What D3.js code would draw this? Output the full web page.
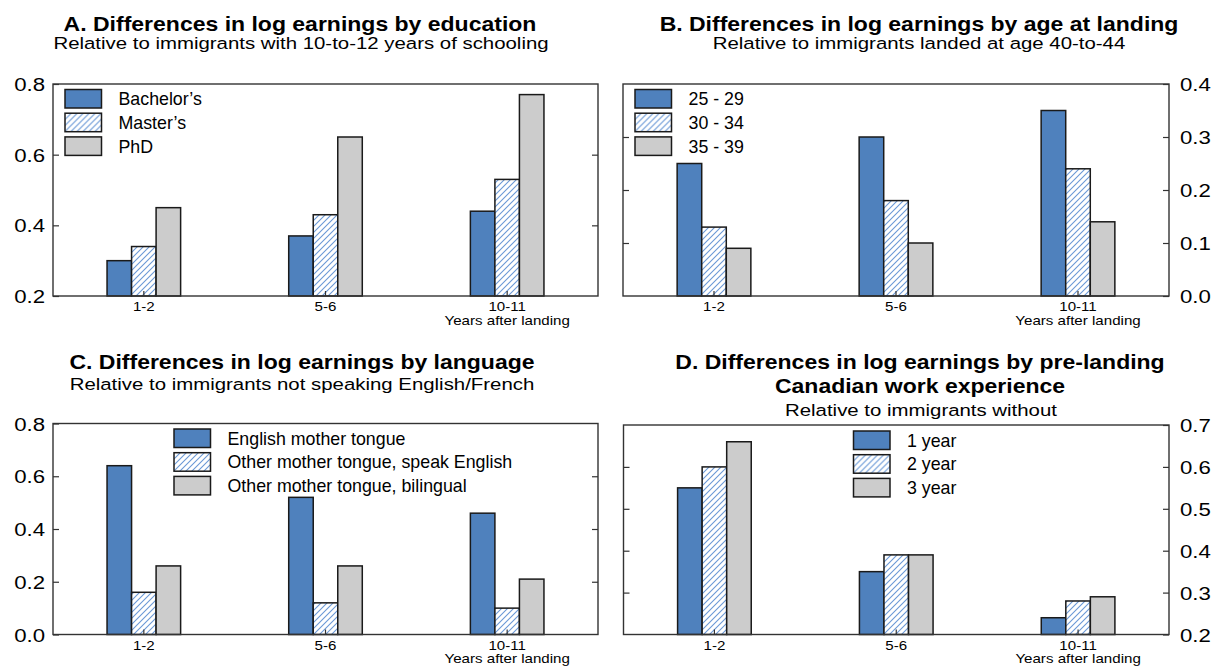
<!DOCTYPE html>
<html><head><meta charset="utf-8">
<script src="https://cdn.jsdelivr.net/npm/d3@7"></script>
<style>
body{margin:0;background:#fff;}
svg{display:block;font-family:"Liberation Sans",Arial,Helvetica,sans-serif;}
</style></head><body>
<svg id="chart" width="1212" height="666"></svg>
<script>
// ---------- data ----------
const years = ["1-2","5-6","10-11"];
const xAxisTitle = "Years after landing";

const eduSeries = ["Bachelor’s","Master’s","PhD"];
const eduBachelor = [0.30,0.37,0.44];
const eduMaster = [0.34,0.43,0.53];
const eduPhD = [0.45,0.65,0.77];
const eduTicks = [0.2,0.4,0.6,0.8];

const ageSeries = ["25 - 29","30 - 34","35 - 39"];
const age2529 = [0.25,0.30,0.35];
const age3034 = [0.13,0.18,0.24];
const age3539 = [0.09,0.10,0.14];
const ageTicks = [0.0,0.1,0.2,0.3,0.4];

const langSeries = ["English mother tongue","Other mother tongue, speak English","Other mother tongue, bilingual"];
const langEnglish = [0.64,0.52,0.46];
const langSpeakEnglish = [0.16,0.12,0.10];
const langBilingual = [0.26,0.26,0.21];
const langTicks = [0.0,0.2,0.4,0.6,0.8];

const expSeries = ["1 year","2 year","3 year"];
const exp1 = [0.55,0.35,0.24];
const exp2 = [0.60,0.39,0.28];
const exp3 = [0.66,0.39,0.29];
const expTicks = [0.2,0.3,0.4,0.5,0.6,0.7];

// ---------- layout / style ----------
const panels = [
  {title:["A. Differences in log earnings by education"], sub:"Relative to immigrants with 10-to-12 years of schooling",
   series:eduSeries, values:[eduBachelor,eduMaster,eduPhD], ticks:eduTicks, side:"left",
   box:{l:53,r:598,t:84,b:296}, tx:300, ty:[30.5], sx:301, sy:49, lg:{x:65,y:89.5}},
  {title:["B. Differences in log earnings by age at landing"], sub:"Relative to immigrants landed at age 40-to-44",
   series:ageSeries, values:[age2529,age3034,age3539], ticks:ageTicks, side:"right",
   box:{l:623,r:1169,t:84,b:296}, tx:919, ty:[30.5], sx:919, sy:49, lg:{x:635,y:89.5}},
  {title:["C. Differences in log earnings by language"], sub:"Relative to immigrants not speaking English/French",
   series:langSeries, values:[langEnglish,langSpeakEnglish,langBilingual], ticks:langTicks, side:"left",
   box:{l:53,r:598,t:423.5,b:634.5}, tx:302, ty:[369], sx:302, sy:390, lg:{x:174,y:429}},
  {title:["D. Differences in log earnings by pre-landing","Canadian work experience"], sub:"Relative to immigrants without",
   series:expSeries, values:[exp1,exp2,exp3], ticks:expTicks, side:"right",
   box:{l:623.5,r:1169,t:425,b:634.5}, tx:920, ty:[369,392.5], sx:921, sy:415.5, lg:{x:853.5,y:431}}
];
const fills = ["#4f81bd","url(#hatch)","#cccccc"];
const STRETCH = 1.2;

const svg = d3.select("#chart");
const defs = svg.append("defs");
const pat = defs.append("pattern").attr("id","hatch").attr("patternUnits","userSpaceOnUse")
  .attr("width",6).attr("height",6);
pat.append("rect").attr("width",6).attr("height",6).attr("fill","#fff");
pat.append("path").attr("d","M-1,1 l2,-2 M0,6 l6,-6 M5,7 l2,-2")
  .attr("stroke","#6a98d6").attr("stroke-width",1.1);

function stext(g, x, y, str, size, opts={}) {
  return g.append("text")
    .attr("transform",`translate(${x},${y}) scale(${opts.sx||STRETCH},1)`)
    .attr("text-anchor", opts.anchor||"middle")
    .style("font-size", size+"px")
    .style("font-weight", opts.weight||"normal")
    .attr("fill","#000")
    .text(str);
}

panels.forEach(p => {
  const g = svg.append("g");
  const {l,r,t,b} = p.box;
  const x0 = d3.scaleBand().domain(years).range([l,r]).padding(0);
  const grpW = x0.bandwidth()*0.405;
  const x1 = d3.scaleBand().domain(p.series).range([0,grpW]).padding(0);
  const y = d3.scaleLinear().domain(d3.extent(p.ticks)).range([b,t]);

  // titles
  p.title.forEach((tt,i)=> stext(g, p.tx, p.ty[i], tt, 19.5, {weight:"bold", sx:1.18}));
  stext(g, p.sx, p.sy, p.sub, 17, {sx:1.2});

  // bars
  p.series.forEach((s,si) => {
    g.append("g").selectAll("rect").data(years).join("rect")
      .attr("x", d => x0(d) + (x0.bandwidth()-grpW)/2 + x1(s))
      .attr("y", (d,i) => y(p.values[si][i]))
      .attr("width", x1.bandwidth())
      .attr("height", (d,i) => b - y(p.values[si][i]))
      .attr("fill", fills[si])
      .attr("stroke","#1a1a1a").attr("stroke-width",1.5);
  });

  // frame
  g.append("rect").attr("x",l).attr("y",t).attr("width",r-l).attr("height",b-t)
    .attr("fill","none").attr("stroke","#333").attr("stroke-width",1.4);

  // inner ticks
  const inner = p.ticks.slice(1,-1);
  const leftAx = d3.axisLeft(y).tickValues(p.side==="left"?p.ticks:inner).tickSizeInner(-6).tickSizeOuter(0).tickPadding(8)
    .tickFormat(p.side==="left"? d3.format(".1f") : "");
  const rightAx = d3.axisRight(y).tickValues(p.side==="right"?p.ticks:inner).tickSizeInner(-6).tickSizeOuter(0).tickPadding(11)
    .tickFormat(p.side==="right"? d3.format(".1f") : "");
  [ [leftAx,l], [rightAx,r] ].forEach(([ax,xx]) => {
    const ag = g.append("g").attr("transform",`translate(${xx},0)`).call(ax);
    ag.select(".domain").remove();
    ag.selectAll("line").attr("stroke","#333").attr("stroke-width",1.2);
    ag.selectAll("text").style("font-size","18.5px").style("font-family","inherit").attr("fill","#000")
      .attr("dy","0.36em")
      .attr("x", function(){ return +d3.select(this).attr("x")/STRETCH; })
      .attr("transform",`scale(${STRETCH},1)`);
  });

  // bottom axis
  const bx = d3.axisBottom(x0).tickSizeInner(-5).tickSizeOuter(0).tickPadding(6.5);
  const bg = g.append("g").attr("transform",`translate(0,${b})`).call(bx);
  bg.select(".domain").remove();
  bg.selectAll("line").attr("stroke","#333").attr("stroke-width",1.2);
  bg.selectAll("text").style("font-size","12.6px").style("font-family","inherit").attr("fill","#000")
    .attr("dy","0.71em").attr("transform",`scale(${STRETCH},1)`);
  stext(g, x0("10-11")+x0.bandwidth()/2, b+28.5, xAxisTitle, 12.6);

  // legend
  const lg = g.append("g").attr("transform",`translate(${p.lg.x},${p.lg.y})`);
  p.series.forEach((s,si) => {
    lg.append("rect").attr("x",0).attr("y",si*23.7).attr("width",36.5).attr("height",18.5)
      .attr("fill",fills[si]).attr("stroke","#1a1a1a").attr("stroke-width",1.5);
    lg.append("text").attr("x",53.5).attr("y",si*23.7+15.6).style("font-size","17.8px").attr("fill","#000").text(s);
  });
});
</script>
</body></html>
